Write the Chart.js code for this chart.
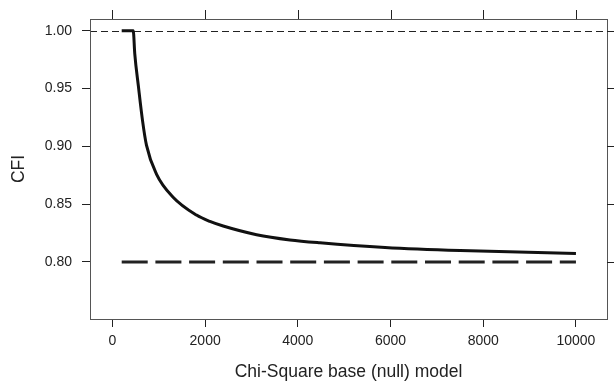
<!DOCTYPE html>
<html>
<head>
<meta charset="utf-8">
<script src="https://cdn.jsdelivr.net/npm/chart.js@4.4.0/dist/chart.umd.min.js"></script>
<style>
    html, body { margin: 0; padding: 0; background: #fff; }
</style>
</head>
<body>
<canvas id="grafica_cfi" width="614" height="381"></canvas>
<script>
// Valores: CFI contra chi-cuadrada del modelo base (nulo).
var chiBase = [200, 449, 482, 560, 650, 734, 950, 1309, 1814, 2102, 2389, 3110, 3830, 4478, 5882, 7502, 10000];
var cfi = [1.000, 1.000, 0.980, 0.952, 0.922, 0.901, 0.876, 0.856, 0.8405, 0.835, 0.831, 0.8235, 0.819, 0.8165, 0.8125, 0.8098, 0.8073];

// Linea punteada gruesa (CFI verdadero)
var trueX = [200, 10000];
var trueCfi = [0.80, 0.80];

// Linea de referencia en 1.00
var refCfi = 1.00;

var xTicks = [0, 2000, 4000, 6000, 8000, 10000];
var yTicks = [0.80, 0.85, 0.90, 0.95, 1.00];

var context = document.getElementById('grafica_cfi').getContext('2d');
var fuente = '"Liberation Sans", Arial, Helvetica, sans-serif';

function toPoints(xs, ys) {
    var pts = [];
    for (var i = 0; i < xs.length; i++) {
        pts.push({ x: xs[i], y: ys[i] });
    }
    return pts;
}

// Dibuja el marco, los ticks de arriba/derecha y la referencia en 1.00
var marco = {
    id: 'marco',
    beforeDatasetsDraw: function (chart) {
        var ctx = chart.ctx, a = chart.chartArea;
        var y = chart.scales.y.getPixelForValue(refCfi);
        ctx.save();
        ctx.strokeStyle = '#222';
        ctx.lineWidth = 1;
        ctx.setLineDash([7, 4]);
        ctx.beginPath();
        ctx.moveTo(a.left, Math.round(y) + 0.5);
        ctx.lineTo(a.right, Math.round(y) + 0.5);
        ctx.stroke();
        ctx.restore();
    },
    afterDraw: function (chart) {
        var ctx = chart.ctx, a = chart.chartArea;
        var sx = chart.scales.x, sy = chart.scales.y;
        ctx.save();
        ctx.lineWidth = 1;
        ctx.strokeStyle = '#555';
        ctx.strokeRect(Math.round(a.left) + 0.5, Math.round(a.top) + 0.5,
            Math.round(a.right - a.left), Math.round(a.bottom - a.top));
        ctx.strokeStyle = '#222';
        ctx.beginPath();
        xTicks.forEach(function (v) {
            var px = Math.round(sx.getPixelForValue(v)) + 0.5;
            ctx.moveTo(px, a.top);
            ctx.lineTo(px, a.top - 9);
        });
        yTicks.forEach(function (v) {
            var py = Math.round(sy.getPixelForValue(v)) + 0.5;
            ctx.moveTo(a.right, py);
            ctx.lineTo(a.right + 8, py);
        });
        ctx.stroke();
        ctx.restore();
    }
};

var chart = new Chart(context, {
    type: 'line',
    data: {
        datasets: [{
            data: toPoints(chiBase, cfi),
            borderColor: '#111',
            borderWidth: 3,
            pointRadius: 0,
            fill: false,
            cubicInterpolationMode: 'monotone'
        }, {
            data: toPoints(trueX, trueCfi),
            borderColor: '#222',
            borderWidth: 3,
            borderDash: [26, 7.7],
            borderCapStyle: 'butt',
            pointRadius: 0,
            fill: false
        }]
    },
    options: {
        responsive: false,
        animation: false,
        layout: { padding: { top: 19, right: 7, left: 0, bottom: 0 } },
        plugins: {
            legend: { display: false },
            tooltip: { enabled: false }
        },
        scales: {
            x: {
                type: 'linear',
                min: -484,
                max: 10670,
                afterBuildTicks: function (s) {
                    s.ticks = xTicks.map(function (v) { return { value: v }; });
                },
                afterFit: function (s) { s.height = 62; },
                border: { display: false },
                grid: { drawOnChartArea: false, drawTicks: true, tickLength: 8, color: '#222' },
                ticks: {
                    color: '#222',
                    padding: 6,
                    maxRotation: 0,
                    font: { family: fuente, size: 14 },
                    callback: function (v) { return String(v); }
                },
                title: {
                    display: true,
                    text: 'Chi-Square base (null) model',
                    color: '#222',
                    padding: { top: 0, bottom: 0 },
                    font: { family: fuente, size: 17.5, lineHeight: 1 }
                }
            },
            y: {
                min: 0.7506,
                max: 1.0101,
                afterBuildTicks: function (s) {
                    s.ticks = yTicks.map(function (v) { return { value: v }; });
                },
                afterFit: function (s) { s.width = 90; },
                border: { display: false },
                grid: { drawOnChartArea: false, drawTicks: true, tickLength: 8, color: '#222' },
                ticks: {
                    color: '#222',
                    padding: 10,
                    font: { family: fuente, size: 14 },
                    callback: function (v) { return v.toFixed(2); }
                },
                title: {
                    display: true,
                    text: 'CFI',
                    color: '#222',
                    padding: { top: 10, bottom: 0 },
                    font: { family: fuente, size: 17.5, lineHeight: 1 }
                }
            }
        }
    },
    plugins: [marco]
});
</script>
</body>
</html>
